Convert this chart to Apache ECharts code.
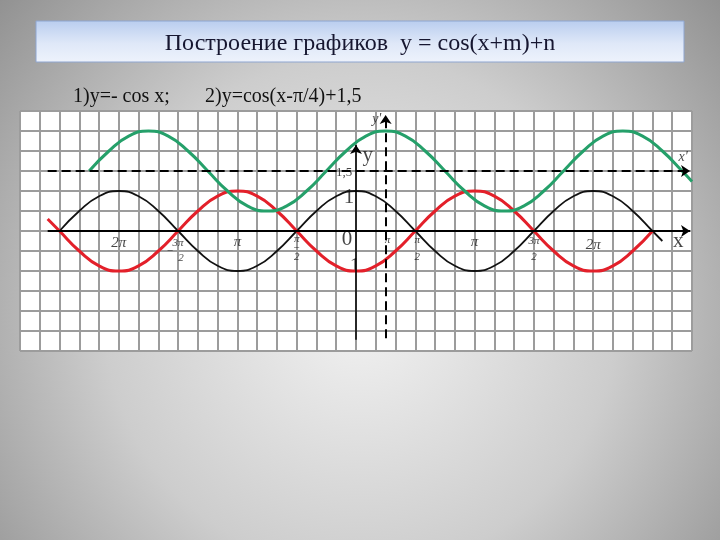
<!DOCTYPE html>
<html><head><meta charset="utf-8">
<script src="https://cdn.jsdelivr.net/npm/echarts@6/dist/echarts.min.js"></script>
<style>html,body{margin:0;padding:0;width:720px;height:540px;overflow:hidden}#c{width:720px;height:540px}</style>
</head><body><div id="c"></div>
<script>
// x values are in units of π/6
const blackX = [-15,-14,-13,-12,-11,-10,-9,-8,-7,-6,-5,-4,-3,-2,-1,0,1,2,3,4,5,6,7,8,9,10,11,12,13,14,15,15.5];
const blackY = [0,0.5,0.87,1,0.87,0.5,0,-0.5,-0.87,-1,-0.87,-0.5,0,0.5,0.87,1,0.87,0.5,0,-0.5,-0.87,-1,-0.87,-0.5,0,0.5,0.87,1,0.87,0.5,0,-0.25];
const redX = [-15.6,-15,-14,-13,-12,-11,-10,-9,-8,-7,-6,-5,-4,-3,-2,-1,0,1,2,3,4,5,6,7,8,9,10,11,12,13,14,15];
const redY = [0.3,0,-0.5,-0.87,-1,-0.87,-0.5,0,0.5,0.87,1,0.87,0.5,0,-0.5,-0.87,-1,-0.87,-0.5,0,0.5,0.87,1,0.87,0.5,0,-0.5,-0.87,-1,-0.87,-0.5,0];
const greenX = [-13.5,-12.5,-11.5,-10.5,-9.5,-8.5,-7.5,-6.5,-5.5,-4.5,-3.5,-2.5,-1.5,-0.5,0.5,1.5,2.5,3.5,4.5,5.5,6.5,7.5,8.5,9.5,10.5,11.5,12.5,13.5,14.5,15.5,16.5,17];
const greenY = [1.5,2,2.37,2.5,2.37,2,1.5,1,0.63,0.5,0.63,1,1.5,2,2.37,2.5,2.37,2,1.5,1,0.63,0.5,0.63,1,1.5,2,2.37,2.5,2.37,2,1.5,1.24];

// axis segments [start, end] in data coords
const xAxisSeg = [[-15.6, 0], [16.9, 0]];
const yAxisSeg = [[0, -2.72], [0, 2.15]];
const xPrimeSeg = [[-15.6, 1.5], [16.9, 1.5]];
const yPrimeSeg = [[1.5, -2.68], [1.5, 2.9]];

// tick labels: text, x, y
const tickLabels = [["2π",-12,-0.3],["π",-6,-0.28],["π",6,-0.28],["2π",12,-0.35]];
const fracLabels = [["3π",-9,-0.3],["2",-8.85,-0.68],["−",-9.4,-0.5],
                    ["π",-3,-0.2],["−",-3,-0.42],["2",-3,-0.66],
                    ["π",1.6,-0.22],
                    ["π",3.1,-0.24],["2",3.1,-0.66],
                    ["3π",9,-0.26],["2",9,-0.66]];
const bigLabels = [["0",-0.45,-0.22],["1",-0.35,0.83],["1",-0.05,-0.88],["y",0.6,1.9],["x",16.3,-0.25]];
const smallLabels = [["1,5",-0.6,1.47]];
const primeLabels = [["y'",1.05,2.78],["x'",16.55,1.83]];

const titleText = "Построение графиков  y = cos(x+m)+n";
const sub1 = "1)y=- cos x;";
const sub2 = "2)y=cos(x-π/4)+1,5";

const serif = '"Liberation Serif","Times New Roman",serif';
const pts = (xs, ys) => xs.map((x, i) => [x, ys[i]]);
const lbl = arr => arr.map(a => ({name: a[0], value: [a[1], a[2]]}));

function axisSeries(seg, dashed, width) {
  return {
    type: 'line', data: [], silent: true,
    markLine: {
      silent: true, symbol: ['none', 'arrow'], symbolSize: 9,
      label: {show: false}, emphasis: {disabled: true},
      lineStyle: {color: '#000', width: width, type: dashed ? [9, 5] : 'solid'},
      data: [[{coord: seg[0]}, {coord: seg[1]}]]
    }
  };
}
function labelSeries(arr, size, italic) {
  return {
    type: 'scatter', silent: true, symbolSize: 1, itemStyle: {color: 'rgba(0,0,0,0)'},
    data: lbl(arr),
    label: {show: true, position: 'inside', formatter: '{b}', fontFamily: serif,
      fontSize: size, fontStyle: italic ? 'italic' : 'normal', color: '#151515'}
  };
}
function curve(xs, ys, color, w) {
  return {type: 'line', data: pts(xs, ys), smooth: 0.5, showSymbol: false, silent: true,
    lineStyle: {color: color, width: w}};
}

const chart = echarts.init(document.getElementById('c'));
chart.setOption({
  animation: false,
  backgroundColor: {type: 'radial', x: 0.5, y: 0.58, r: 0.95,
    colorStops: [{offset: 0, color: '#f2f2f2'}, {offset: 0.5, color: '#cdcdcd'}, {offset: 1, color: '#888888'}]},
  grid: {left: 20, top: 111, width: 672, height: 240, show: true, backgroundColor: '#ffffff', borderWidth: 0},
  xAxis: {type: 'value', min: -17, max: 17, interval: 1,
    axisLine: {show: false}, axisTick: {show: false}, axisLabel: {show: false},
    splitLine: {show: true, lineStyle: {color: '#9c9c9c', width: 2}}},
  yAxis: {type: 'value', min: -3, max: 3, interval: 0.5,
    axisLine: {show: false}, axisTick: {show: false}, axisLabel: {show: false},
    splitLine: {show: true, lineStyle: {color: '#9c9c9c', width: 2}}},
  graphic: [
    {type: 'rect', shape: {x: 36, y: 21, width: 648, height: 41},
      style: {fill: {type: 'linear', x: 0, y: 0, x2: 0, y2: 1,
        colorStops: [{offset: 0, color: '#b9cdef'}, {offset: 0.55, color: '#dfe8f8'}, {offset: 1, color: '#eef3fc'}]},
        stroke: '#8ea5cf', lineWidth: 1}},
    {type: 'text', style: {text: titleText, x: 360, y: 44, align: 'center', verticalAlign: 'middle',
      font: '24px ' + serif, fill: '#161630'}},
    {type: 'text', style: {text: sub1, x: 73, y: 97, align: 'left', verticalAlign: 'middle',
      font: '20px ' + serif, fill: '#111'}},
    {type: 'text', style: {text: sub2, x: 205, y: 97, align: 'left', verticalAlign: 'middle',
      font: '20px ' + serif, fill: '#111'}}
  ],
  series: [
    axisSeries(yPrimeSeg, true, 2),
    axisSeries(xPrimeSeg, true, 2),
    axisSeries(xAxisSeg, false, 2),
    axisSeries(yAxisSeg, false, 1.5),
    curve(blackX, blackY, '#111111', 1.8),
    curve(redX, redY, '#e3202a', 3),
    curve(greenX, greenY, '#25a06a', 3),
    labelSeries(tickLabels, 15, true),
    labelSeries(fracLabels, 11, true),
    labelSeries(bigLabels, 21, false),
    labelSeries(smallLabels, 13, false),
    labelSeries(primeLabels, 14, true)
  ]
});
</script></body></html>
